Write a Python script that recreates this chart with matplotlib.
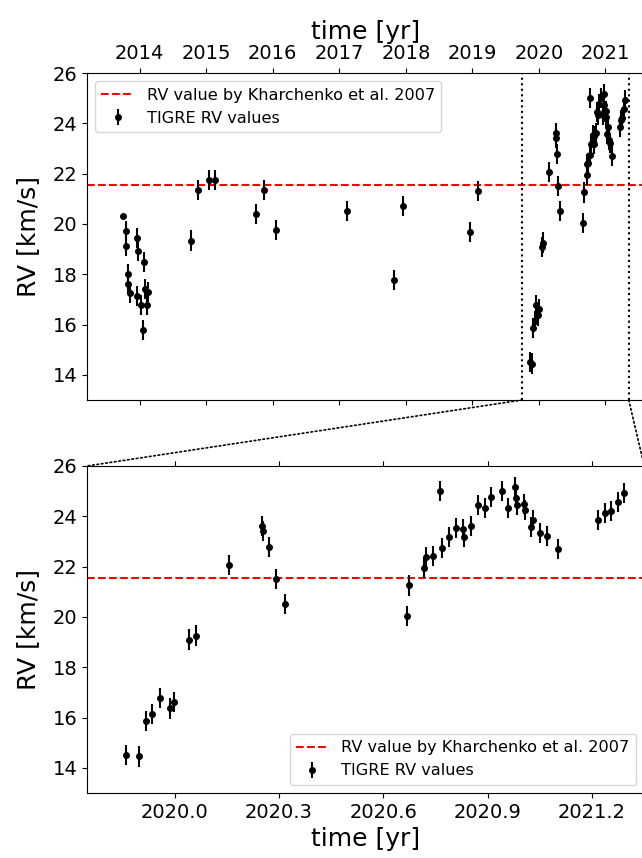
import matplotlib
matplotlib.use('Agg')
import matplotlib.pyplot as plt
from matplotlib.patches import ConnectionPatch

# TIGRE radial velocities (time in yr, RV in km/s)
time_yr = [
    2013.744, 2013.794, 2013.789, 2013.824, 2013.824, 2013.860, 2013.955, 2013.980,
    2013.959, 2014.026, 2014.056, 2014.065, 2014.080, 2014.110, 2014.125,
    2014.777, 2014.877, 2015.038, 2015.138, 2015.740, 2015.865, 2016.041,
    2017.117, 2017.820, 2017.950, 2018.967, 2019.078,
    2019.860, 2019.898, 2019.917, 2019.936, 2019.958, 2019.988, 2019.997,
    2020.042, 2020.062, 2020.155, 2020.250, 2020.254, 2020.270, 2020.290, 2020.317,
    2020.669, 2020.674, 2020.717, 2020.723, 2020.742, 2020.764, 2020.769, 2020.789,
    2020.809, 2020.830, 2020.832, 2020.852, 2020.872, 2020.891, 2020.910, 2020.940,
    2020.959, 2020.979, 2020.981, 2020.984, 2021.003, 2021.006, 2021.025, 2021.031,
    2021.050, 2021.069, 2021.102, 2021.217, 2021.236, 2021.255, 2021.274, 2021.293,
]
rv = [
    20.32, 19.71, 19.14, 18.00, 17.62, 17.27, 19.44, 18.93,
    17.15, 16.76, 15.78, 18.49, 17.43, 16.76, 17.29,
    19.34, 21.35, 21.74, 21.74, 20.40, 21.35, 19.75,
    20.52, 17.78, 20.72, 19.68, 21.32,
    14.52, 14.45, 15.87, 16.13, 16.77, 16.36, 16.62,
    19.10, 19.26, 22.07, 23.60, 23.40, 22.79, 21.51, 20.52,
    20.05, 21.25, 21.96, 22.37, 22.42, 25.02, 22.73, 23.18,
    23.52, 23.48, 23.19, 23.60, 24.45, 24.33, 24.78, 25.02,
    24.33, 25.17, 24.72, 24.45, 24.49, 24.25, 23.58, 23.85,
    23.35, 23.22, 22.71, 23.85, 24.13, 24.22, 24.58, 24.93,
]
rv_err = [0.05] + [0.4] * (len(rv) - 1)

rv_kharchenko = 21.55
zoom_range = (2019.748, 2021.35)

fig = plt.figure(figsize=(6.42, 8.58), dpi=100)
ax1 = fig.add_axes([0.1355, 0.5338, 0.868, 0.3811])
ax2 = fig.add_axes([0.1355, 0.0758, 0.868, 0.3811])

label_kh = 'RV value by Kharchenko et al. 2007'
label_tg = 'TIGRE RV values'

for ax in (ax1, ax2):
    ax.axhline(rv_kharchenko, color='red', ls='--', lw=1.5, label=label_kh)
    ax.errorbar(time_yr, rv, yerr=rv_err, fmt='o', color='black', ms=4,
                elinewidth=1.5, label=label_tg)
    ax.set_ylim(13, 26)
    ax.set_yticks([14, 16, 18, 20, 22, 24, 26])
    ax.set_ylabel('RV [km/s]', fontsize=18, labelpad=9)
    ax.tick_params(labelsize=14, top=True, bottom=True)

# top panel: full time span, labels on top
ax1.set_xlim(2013.207, 2021.583)
ax1.set_xticks(range(2014, 2022))
ax1.xaxis.set_label_position('top')
ax1.tick_params(labeltop=True, labelbottom=False)
ax1.set_xlabel('time [yr]', fontsize=18)
for x in zoom_range:
    ax1.axvline(x, color='black', ls=':', lw=1.5)
ax1.legend(loc='upper left', fontsize=11.6)

# bottom panel: zoom on the recent data
ax2.set_xlim(*zoom_range)
ax2.set_xticks([2020.0, 2020.3, 2020.6, 2020.9, 2021.2])
ax2.set_xticklabels(['2020.0', '2020.3', '2020.6', '2020.9', '2021.2'])
ax2.set_xlabel('time [yr]', fontsize=18)
ax2.legend(loc='lower right', fontsize=11.6)

# dotted lines connecting the zoom region
for x in zoom_range:
    con = ConnectionPatch(xyA=(x, 13), coordsA=ax1.transData,
                          xyB=(x, 26), coordsB=ax2.transData,
                          color='black', ls=':', lw=1.2)
    fig.add_artist(con)

fig.savefig('out.png', dpi=100)
